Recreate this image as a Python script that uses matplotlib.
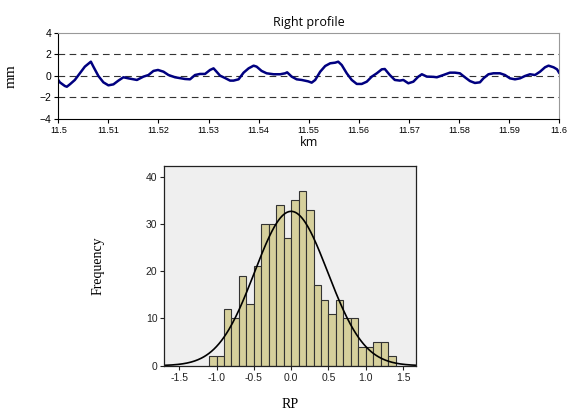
import numpy as np
import matplotlib
matplotlib.use('Agg')
import matplotlib.pyplot as plt

# right profile (km, mm)
km = [11.4999, 11.5003, 11.5013, 11.5017, 11.5023, 11.5033, 11.5043, 11.5053, 11.5065,
      11.507, 11.508, 11.509, 11.510, 11.511, 11.512, 11.513, 11.514, 11.5157, 11.517,
      11.518, 11.519, 11.5199, 11.521, 11.522, 11.5233, 11.5253, 11.5263, 11.5273,
      11.5283, 11.5293, 11.5303, 11.531, 11.5316, 11.5323, 11.5333, 11.5343, 11.535,
      11.536, 11.537, 11.538, 11.539, 11.5396, 11.5406, 11.5416, 11.543, 11.5443,
      11.5453, 11.5457, 11.5466, 11.5476, 11.5486, 11.5499, 11.5506, 11.5513, 11.5523,
      11.5533, 11.5543, 11.5553, 11.5559, 11.5566, 11.5576, 11.5586, 11.5596, 11.5606,
      11.5616, 11.5626, 11.5636, 11.5646, 11.5652, 11.5662, 11.5672, 11.5682, 11.5689,
      11.5699, 11.5709, 11.5719, 11.5726, 11.5736, 11.5749, 11.5756, 11.5769, 11.5782,
      11.5792, 11.5802, 11.5812, 11.5822, 11.5832, 11.5842, 11.5849, 11.5859, 11.5869,
      11.5882, 11.5892, 11.5902, 11.5912, 11.5922, 11.5932, 11.5942, 11.5952, 11.5962,
      11.5972, 11.5979, 11.5989, 11.5996, 11.6]
mm = [-0.31, -0.59, -0.93, -1.0, -0.78, -0.37, 0.25, 0.87, 1.33,
      0.87, 0.0, -0.59, -0.87, -0.78, -0.43, -0.12, -0.22, -0.37, -0.06,
      0.09, 0.47, 0.56, 0.40, 0.09, -0.12, -0.28, -0.31, 0.09,
      0.19, 0.19, 0.56, 0.71, 0.40, 0.03, -0.19, -0.43, -0.43,
      -0.31, 0.31, 0.71, 0.96, 0.87, 0.47, 0.25, 0.16, 0.16,
      0.25, 0.34, -0.06, -0.31, -0.37, -0.50, -0.62, -0.37, 0.40,
      0.93, 1.18, 1.24, 1.33, 1.02, 0.25, -0.37, -0.74, -0.74,
      -0.53, -0.06, 0.25, 0.62, 0.65, 0.09, -0.37, -0.43, -0.37,
      -0.68, -0.53, -0.06, 0.16, -0.06, -0.08, -0.12, 0.09, 0.31,
      0.31, 0.25, -0.12, -0.47, -0.65, -0.59, -0.22, 0.16, 0.25,
      0.25, 0.09, -0.22, -0.31, -0.22, 0.0, 0.16, 0.09, 0.40,
      0.81, 0.96, 0.81, 0.62, 0.31]

# histogram of RP
bin_left = [-1.1, -1.0, -0.9, -0.8, -0.7, -0.6, -0.5, -0.4, -0.3, -0.2, -0.1, 0.0,
            0.1, 0.2, 0.3, 0.4, 0.5, 0.6, 0.7, 0.8, 0.9, 1.0, 1.1, 1.2, 1.3]
counts = [2, 2, 12, 10, 19, 13, 21, 30, 30, 34, 27, 35,
          37, 33, 17, 14, 11, 14, 10, 10, 4, 4, 5, 5, 2]
bin_w = 0.1
rp_mean = 0.0
rp_sd = 0.49

fig = plt.figure(figsize=(5.69, 4.16), dpi=100)

# --- top: profile line ---
ax1 = fig.add_axes([0.1025, 0.714, 0.880, 0.2067])
ax1.plot(km, mm, color='#000080', linewidth=1.8)
ax1.set_xlim(11.5, 11.6)
ax1.set_ylim(-4, 4)
ax1.set_xticks(np.arange(11.5, 11.6001, 0.01))
ax1.set_xticklabels(['11.5', '11.51', '11.52', '11.53', '11.54', '11.55',
                     '11.56', '11.57', '11.58', '11.59', '11.6'])
ax1.set_yticks([-4, -2, 0, 2, 4])
for y in [-2, 0, 2]:
    ax1.axhline(y, color='#333333', linestyle=(0, (6, 4)), linewidth=0.8, zorder=0)
ax1.tick_params(axis='x', labelsize=6.5, length=3, pad=2)
ax1.tick_params(axis='y', labelsize=7.5, length=3, pad=2)
for lab in ax1.get_xticklabels() + ax1.get_yticklabels():
    lab.set_family('Liberation Sans')
ax1.spines['left'].set_color('black')
ax1.spines['bottom'].set_color('black')
ax1.spines['top'].set_color('#999999')
ax1.spines['right'].set_color('#999999')
ax1.set_title('Right profile', fontsize=9, family='Open Sans', pad=5)
ax1.set_xlabel('km', fontsize=9, family='Open Sans', labelpad=1)
ax1.set_ylabel('mm', fontsize=11, family='Liberation Serif', labelpad=16)

# --- bottom: histogram with normal curve ---
ax2 = fig.add_axes([0.2888, 0.1209, 0.4418, 0.4808])
ax2.set_facecolor('#efefef')
ax2.bar(bin_left, counts, width=bin_w, align='edge', color='#d6d09c',
        edgecolor='#333333', linewidth=0.8)
xs = np.linspace(-1.7, 1.67, 300)
n_total = sum(counts)
ys = n_total * bin_w / (rp_sd * np.sqrt(2 * np.pi)) * np.exp(-0.5 * ((xs - rp_mean) / rp_sd) ** 2)
ax2.plot(xs, ys, color='black', linewidth=1.2)
ax2.set_xlim(-1.7, 1.67)
ax2.set_ylim(0, 42.3)
ax2.set_xticks([-1.5, -1.0, -0.5, 0.0, 0.5, 1.0, 1.5])
ax2.set_xticklabels(['-1.5', '-1.0', '-0.5', '0.0', '0.5', '1.0', '1.5'])
ax2.set_yticks([0, 10, 20, 30, 40])
ax2.tick_params(labelsize=7.5, length=3, pad=2, colors='#222222')
for lab in ax2.get_xticklabels() + ax2.get_yticklabels():
    lab.set_family('Liberation Sans')
for s in ax2.spines.values():
    s.set_color('#222222')
    s.set_linewidth(0.9)
ax2.set_xlabel('RP', fontsize=10, family='Liberation Serif', labelpad=11)
ax2.set_ylabel('Frequency', fontsize=10, family='Liberation Serif', labelpad=30)

fig.savefig('out.png', dpi=100)
